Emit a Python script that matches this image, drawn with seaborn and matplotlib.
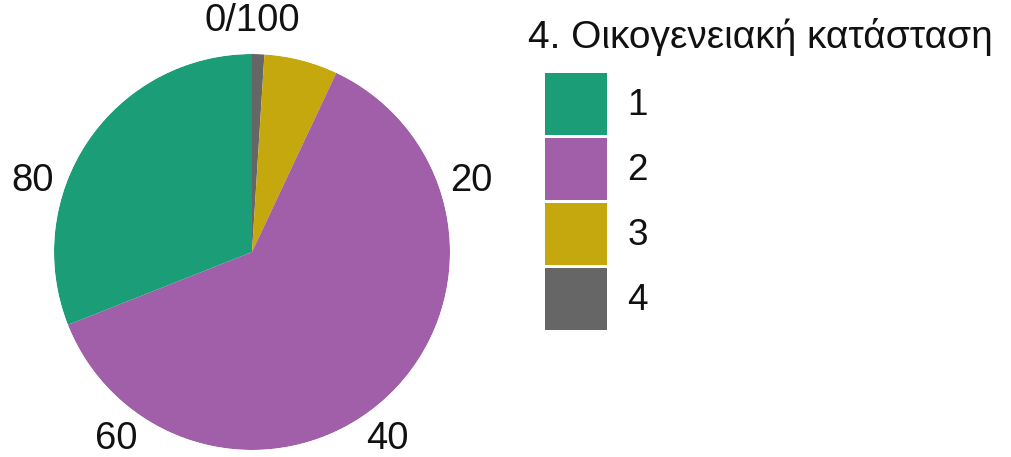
import numpy as np
import matplotlib
matplotlib.use("Agg")
import matplotlib.pyplot as plt
from matplotlib.patches import Patch
import seaborn as sns

# Share of respondents per family-status code (percent)
categories = ["1", "2", "3", "4"]
shares = [31, 62, 6, 1]
colors = ["#1B9E77", "#A05FA8", "#C5A80E", "#666666"]
tick_values = [0, 20, 40, 60, 80]
tick_labels = ["0/100", "20", "40", "60", "80"]
legend_title = "4. Οικογενειακή κατάσταση"

sns.set_theme(style="white")
plt.rcParams["font.family"] = ["Liberation Sans", "DejaVu Sans"]
palette = sns.color_palette(colors)

W, H = 1011, 457
fig = plt.figure(figsize=(W / 100, H / 100), dpi=100)
fig.patch.set_facecolor("white")

# polar axes placed in pixel units: centre and radius of the pie
cx, cy, r = 252, 252, 198
ax = fig.add_axes([(cx - r) / W, (H - cy - r) / H, 2 * r / W, 2 * r / H],
                  projection="polar")
ax.set_theta_zero_location("N")
ax.set_theta_direction(-1)
ax.set_facecolor("white")

# stacked wedges, last level first, going clockwise from the top
total = float(sum(shares))
start = 0.0
for i in reversed(range(len(categories))):
    width = shares[i] / total * 2 * np.pi
    ax.bar(start, 1.0, width=width, bottom=0.0, align="edge",
           color=palette[i], edgecolor="none", linewidth=0)
    start += width

ax.set_ylim(0, 1)
ax.set_yticks([])
ax.set_xticks(np.deg2rad(np.array(tick_values) * 3.6))
ax.set_xticklabels(tick_labels)
ax.tick_params(axis="x", pad=16.5, labelsize=27.5, labelcolor="#111111",
               length=0)
ax.grid(False)
ax.spines["polar"].set_visible(False)

# legend keys and labels
handles = [Patch(facecolor=palette[i], edgecolor="none", label=c)
           for i, c in enumerate(categories)]
fs_px = 37.0
fig.legend(handles=handles, loc="upper left",
           bbox_to_anchor=(545 / W, 1 - 73 / H),
           bbox_transform=fig.transFigure,
           frameon=False, fontsize=26.6,
           handlelength=62 / fs_px, handleheight=2.2,
           labelspacing=3 / fs_px, handletextpad=0.55,
           borderpad=0, borderaxespad=0, labelcolor="#111111")
fig.text(528 / W, 1 - 48.3 / H, legend_title, fontsize=28,
         color="#111111", ha="left", va="baseline")

fig.savefig("out.png", dpi=100, facecolor="white")
